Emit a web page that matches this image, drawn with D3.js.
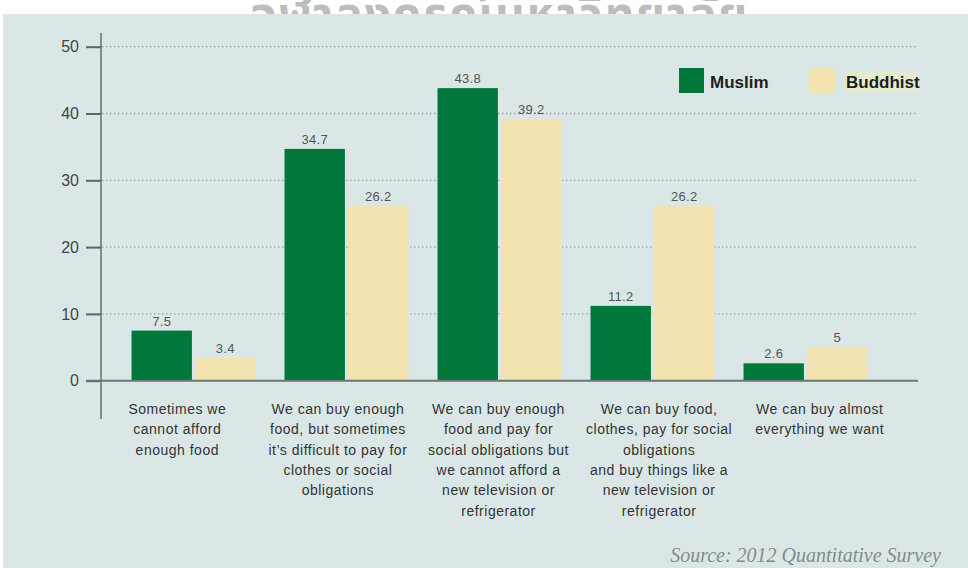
<!DOCTYPE html>
<html>
<head>
<meta charset="utf-8">
<script src="https://cdn.jsdelivr.net/npm/d3@7"></script>
<style>
  body { margin: 0; background: #fff; }
  svg { display: block; }
</style>
</head>
<body>
<div id="grafica"></div>
<script>
// Datos del gráfico
const categories = [
  ["Sometimes we", "cannot afford", "enough food"],
  ["We can buy enough", "food, but sometimes", "it\u2019s difficult to pay for", "clothes or social", "obligations"],
  ["We can buy enough", "food and pay for", "social obligations but", "we cannot afford a", "new television or", "refrigerator"],
  ["We can buy food,", "clothes, pay for social", "obligations", "and buy things like a", "new television or", "refrigerator"],
  ["We can buy almost", "everything we want"]
]
const seriesNames = ["Muslim", "Buddhist"]
const muslim = [7.5, 34.7, 43.8, 11.2, 2.6]
const buddhist = [3.4, 26.2, 39.2, 26.2, 5]
const valueLabels = [["7.5", "34.7", "43.8", "11.2", "2.6"], ["3.4", "26.2", "39.2", "26.2", "5"]]
const yTicks = [0, 10, 20, 30, 40, 50]
const sourceText = "Source: 2012 Quantitative Survey"
const watermark = "จุฬาลงกรณ์มหาวิทยาลัย"

const width = 968
const height = 568
const colors = ["#02773b", "#f3e3b1"]
const sans = "'Liberation Sans', Arial, sans-serif"

const svg = d3.select("#grafica")
  .append("svg")
  .attr("width", width)
  .attr("height", height)

// marca de agua (en el original aparece cortada por el panel)
svg.append("text")
  .attr("x", 500)
  .attr("y", 30)
  .attr("text-anchor", "middle")
  .attr("font-family", "'Noto Sans Thai', 'DejaVu Sans', sans-serif")
  .attr("font-size", 46)
  .attr("font-weight", "bold")
  .attr("letter-spacing", 2)
  .attr("fill", "#bdbdbd")
  .text(watermark)

// panel de fondo
svg.append("rect")
  .attr("x", 3).attr("y", 14)
  .attr("width", width - 3).attr("height", height - 14)
  .attr("fill", "#dae7e6")

// escalas
const yScale = d3.scaleLinear()
  .domain([0, 50])
  .range([380.7, 46.7])

const xScale = d3.scaleBand()
  .domain(d3.range(categories.length))
  .range([117, 882])
  .paddingInner(0.19)
  .paddingOuter(0.095)

const xSub = d3.scaleBand()
  .domain([0, 1])
  .range([0, xScale.bandwidth()])
  .paddingInner(0.05)

// las etiquetas del original van en otra grilla, algo más ancha
const xLabel = d3.scaleBand()
  .domain(d3.range(categories.length))
  .range([97, 900])

// líneas de la grilla
svg.append("g")
  .selectAll("line")
  .data(yTicks.filter(d => d > 0))
  .enter()
  .append("line")
  .attr("x1", 102).attr("x2", 918)
  .attr("y1", d => yScale(d)).attr("y2", d => yScale(d))
  .attr("stroke", "#9aa3a2")
  .attr("stroke-width", 1.3)
  .attr("stroke-dasharray", "1.5,2.5")

// eje y
const yAxis = d3.axisLeft(yScale)
  .tickValues(yTicks)
  .tickSize(15)
  .tickPadding(7)

const gy = svg.append("g")
  .attr("transform", "translate(101,0)")
  .call(yAxis)
gy.select(".domain").remove()
gy.selectAll(".tick line").attr("stroke", "#5d6463").attr("stroke-width", 2)
gy.selectAll(".tick text")
  .attr("font-family", sans)
  .attr("font-size", 16)
  .attr("fill", "#444")

svg.append("line")
  .attr("x1", 101).attr("x2", 101)
  .attr("y1", 33).attr("y2", 419)
  .attr("stroke", "#555c5b")
  .attr("stroke-width", 1.3)

// barras
const series = [muslim, buddhist]
series.forEach((vals, s) => {
  svg.append("g")
    .selectAll("rect")
    .data(vals)
    .enter()
    .append("rect")
    .attr("x", (d, i) => xScale(i) + xSub(s))
    .attr("y", d => yScale(d))
    .attr("width", xSub.bandwidth())
    .attr("height", d => yScale(0) - yScale(d))
    .attr("fill", colors[s])

  svg.append("g")
    .selectAll("text")
    .data(vals)
    .enter()
    .append("text")
    .attr("x", (d, i) => xScale(i) + xSub(s) + xSub.bandwidth() / 2)
    .attr("y", d => yScale(d) - 5)
    .attr("text-anchor", "middle")
    .attr("font-family", sans)
    .attr("font-size", 13)
    .attr("letter-spacing", 0.3)
    .attr("fill", "#555")
    .text((d, i) => valueLabels[s][i])
})

// línea base
svg.append("line")
  .attr("x1", 86).attr("x2", 918)
  .attr("y1", yScale(0)).attr("y2", yScale(0))
  .attr("stroke", "#6c7675")
  .attr("stroke-width", 2)

// etiquetas de categoría
const catG = svg.append("g")
  .selectAll("text")
  .data(categories)
  .enter()
  .append("text")
  .attr("text-anchor", "middle")
  .attr("font-family", sans)
  .attr("font-size", 14)
  .attr("letter-spacing", 0.5)
  .attr("fill", "#333")

catG.selectAll("tspan")
  .data((d, i) => d.map(line => ({ line, i })))
  .enter()
  .append("tspan")
  .attr("x", d => xLabel(d.i) + xLabel.bandwidth() / 2)
  .attr("y", (d, j) => 414 + j * 20.3)
  .text(d => d.line)

// leyenda
const legendX = [679, 810]
svg.append("rect")
  .attr("x", 845).attr("y", 72)
  .attr("width", 73).attr("height", 20)
  .attr("fill", "#e4ebcf")

seriesNames.forEach((name, s) => {
  svg.append("rect")
    .attr("x", legendX[s]).attr("y", 68)
    .attr("width", 25).attr("height", 25)
    .attr("fill", colors[s])
  svg.append("text")
    .attr("x", legendX[s] + (s === 0 ? 31 : 36))
    .attr("y", 88)
    .attr("font-family", sans)
    .attr("font-size", 17)
    .attr("font-weight", "bold")
    .attr("fill", "#1e1e1e")
    .text(name)
})

// fuente
svg.append("text")
  .attr("x", 941)
  .attr("y", 562)
  .attr("text-anchor", "end")
  .attr("font-family", "'Liberation Serif', 'Times New Roman', serif")
  .attr("font-style", "italic")
  .attr("font-size", 20)
  .attr("fill", "#858b8a")
  .text(sourceText)
</script>
</body>
</html>
